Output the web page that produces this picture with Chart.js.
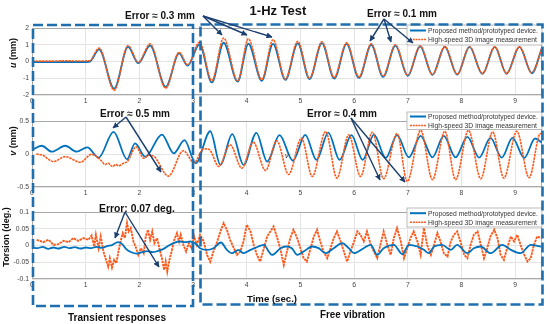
<!DOCTYPE html>
<html><head><meta charset="utf-8">
<script src="https://cdn.jsdelivr.net/npm/chart.js@4.4.0/dist/chart.umd.min.js"></script>
<style>
html,body{margin:0;padding:0;background:#fff;}
#wrap{position:relative;width:550px;height:324px;overflow:hidden;font-family:"Liberation Sans",Arial,sans-serif;}
canvas{position:absolute;left:0;}
svg{position:absolute;left:0;top:0;font-family:"Liberation Sans",Arial,sans-serif;}
</style></head><body>
<div id="wrap">
<canvas id="c1" width="550" height="89" style="top:20px;width:550px;height:89px"></canvas>
<canvas id="c2" width="550" height="88" style="top:113px;width:550px;height:88px"></canvas>
<canvas id="c3" width="550" height="89" style="top:204px;width:550px;height:89px"></canvas>
<svg width="550" height="324" viewBox="0 0 550 324">
<defs>
<marker id="ah" markerWidth="6" markerHeight="6" refX="5.5" refY="3" orient="auto" markerUnits="userSpaceOnUse"><path d="M0,0 L6,3 L0,6 z" fill="#1B3F6E"/></marker>
</defs>
<text x="278" y="14.6" font-size="13" font-weight="bold" text-anchor="middle" fill="#111">1-Hz Test</text>
<text transform="translate(15.5,53) rotate(-90)" font-size="9" font-weight="bold" text-anchor="middle" fill="#111"><tspan font-style="italic">u</tspan> (mm)</text>
<text transform="translate(15.5,141) rotate(-90)" font-size="9" font-weight="bold" text-anchor="middle" fill="#111"><tspan font-style="italic">v</tspan> (mm)</text>
<text transform="translate(9,237) rotate(-90)" font-size="9" font-weight="bold" text-anchor="middle" fill="#111">Torsion (deg.)</text>
<text x="285" y="158" font-size="7" font-style="italic" fill="#222">v</text>

<g font-size="6.7" fill="#333">
<rect x="407" y="25" width="135" height="20" fill="#fff" stroke="#aaa" stroke-width="0.8"/>
<line x1="410" y1="30.5" x2="426" y2="30.5" stroke="#0072BD" stroke-width="2"/>
<line x1="410" y1="39.5" x2="426" y2="39.5" stroke="#FA5A1C" stroke-width="1.6" stroke-dasharray="2 0.8"/>
<text x="428" y="32.8" textLength="110" lengthAdjust="spacingAndGlyphs">Proposed method/prototyped device.</text>
<text x="428" y="41.8" textLength="109" lengthAdjust="spacingAndGlyphs">High-speed 3D image measurement</text>

<rect x="407" y="112" width="135" height="17.5" fill="#fff" stroke="#aaa" stroke-width="0.8"/>
<line x1="410" y1="116.5" x2="426" y2="116.5" stroke="#0072BD" stroke-width="2"/>
<line x1="410" y1="125.5" x2="426" y2="125.5" stroke="#FA5A1C" stroke-width="1.6" stroke-dasharray="2 0.8"/>
<text x="428" y="118.7" textLength="110" lengthAdjust="spacingAndGlyphs">Proposed method/prototyped device.</text>
<text x="428" y="127.7" textLength="109" lengthAdjust="spacingAndGlyphs">High-speed 3D image measurement</text>

<rect x="407" y="208" width="135" height="19" fill="#fff" stroke="#aaa" stroke-width="0.8"/>
<line x1="410" y1="213.2" x2="426" y2="213.2" stroke="#0072BD" stroke-width="2"/>
<line x1="410" y1="222.2" x2="426" y2="222.2" stroke="#FA5A1C" stroke-width="1.6" stroke-dasharray="2 0.8"/>
<text x="428" y="215.5" textLength="110" lengthAdjust="spacingAndGlyphs">Proposed method/prototyped device.</text>
<text x="428" y="224.5" textLength="109" lengthAdjust="spacingAndGlyphs">High-speed 3D image measurement</text>
</g>

<rect x="33" y="25" width="160" height="281" fill="none" stroke="#1F6FAE" stroke-width="2.6" stroke-dasharray="10 4"/>
<rect x="200.5" y="24.5" width="342" height="280" fill="none" stroke="#1F6FAE" stroke-width="2.6" stroke-dasharray="10 4"/>

<g font-size="10" font-weight="bold" fill="#111">
<text x="125" y="18.6" textLength="70" lengthAdjust="spacingAndGlyphs">Error ≈ 0.3 mm</text>
<text x="367" y="16.6" textLength="70" lengthAdjust="spacingAndGlyphs">Error ≈ 0.1 mm</text>
<text x="100" y="116.6" textLength="70" lengthAdjust="spacingAndGlyphs">Error ≈ 0.5 mm</text>
<text x="307" y="116.6" textLength="70" lengthAdjust="spacingAndGlyphs">Error ≈ 0.4 mm</text>
<text x="99" y="211.6" textLength="76" lengthAdjust="spacingAndGlyphs">Error: 0.07 deg.</text>
<text x="247" y="301.5" font-size="9.6" textLength="50" lengthAdjust="spacingAndGlyphs">Time (sec.)</text>
<text x="68" y="320.5" textLength="98" lengthAdjust="spacingAndGlyphs">Transient responses</text>
<text x="320" y="317.5" textLength="65" lengthAdjust="spacingAndGlyphs">Free vibration</text>
</g>

<g stroke="#1B3F6E" stroke-width="1.4" fill="none" marker-end="url(#ah)">
<line x1="203" y1="16" x2="222" y2="35"/>
<line x1="203" y1="16" x2="247" y2="35"/>
<line x1="203" y1="16" x2="272" y2="37"/>
<line x1="384" y1="19" x2="370" y2="41"/>
<line x1="384" y1="19" x2="391" y2="42"/>
<line x1="384" y1="19" x2="413" y2="43"/>
<line x1="126" y1="117" x2="113" y2="128"/>
<line x1="126" y1="117" x2="161" y2="172"/>
<line x1="351" y1="118" x2="380" y2="180"/>
<line x1="351" y1="118" x2="405" y2="182"/>
<line x1="125" y1="212" x2="115" y2="238"/>
<line x1="125" y1="212" x2="159" y2="267"/>
</g>
</svg>
</div>
<script>
// ---- data (time in s, value) ----
const xTickVals = [0,1,2,3,4,5,6,7,8,9];
const uTicks = [-2,-1,0,1,2];
const vTicks = [-0.5,0,0.5];
const torTicks = [-0.1,-0.05,0,0.05,0.1];

const uBlue = [[0,-0.03],[0.3,-0.04],[0.6,-0.03],[0.9,-0.03],[1.07,-0.02],[1.25,0.72],[1.53,-1.62],[1.79,0.87],[1.98,-0.1],[2.2,0.95],[2.49,-1.52],[2.74,0.48],[2.9,-0.25],[3.12,1.02],[3.35,-1.25],[3.57,1.12],[3.83,-1.2],[4.03,1.06],[4.28,-1.15],[4.49,1.05],[4.72,-1.1],[4.95,1.08],[5.17,-1.05],[5.4,1.1],[5.63,-1.02],[5.86,1.05],[6.09,-0.98],[6.32,1.0],[6.54,-0.92],[6.77,0.95],[7.0,-0.86],[7.23,0.91],[7.46,-0.8],[7.69,0.88],[7.92,-0.78],[8.15,0.87],[8.39,-0.74],[8.62,0.87],[8.84,-0.73],[9.08,0.87],[9.31,-0.7],[9.5,0.8]];
const uOrange = [[0,0.03],[0.3,0.02],[0.6,0.04],[0.9,0.03],[1.07,0.04],[1.25,0.8],[1.53,-1.72],[1.79,0.95],[1.98,-0.05],[2.2,1.05],[2.49,-1.6],[2.74,0.55],[2.9,-0.2],[3.12,1.15],[3.35,-1.15],[3.57,1.4],[3.83,-1.15],[4.03,1.35],[4.28,-1.08],[4.49,1.3],[4.72,-1.05],[4.95,1.21],[5.17,-1.0],[5.4,1.18],[5.63,-0.95],[5.86,1.12],[6.09,-0.92],[6.32,1.05],[6.54,-0.88],[6.77,1.0],[7.0,-0.82],[7.23,0.93],[7.46,-0.78],[7.69,0.9],[7.92,-0.76],[8.15,0.88],[8.39,-0.72],[8.62,0.88],[8.84,-0.71],[9.08,0.88],[9.31,-0.68],[9.5,0.82]];

const vBlue = [[0,0.06],[0.18,0.125],[0.37,0.035],[0.62,0.125],[0.83,0.035],[1.03,0.1],[1.24,-0.055],[1.52,0.335],[1.77,-0.08],[1.92,0.16],[2.11,-0.04],[2.42,0.295],[2.64,0.01],[2.84,0.21],[3.05,-0.14],[3.32,0.345],[3.51,-0.165],[3.73,0.3],[3.94,-0.165],[4.18,0.32],[4.38,-0.115],[4.61,0.285],[4.86,-0.1],[5.09,0.29],[5.3,-0.09],[5.52,0.325],[5.73,-0.09],[5.95,0.285],[6.16,-0.09],[6.37,0.295],[6.59,-0.06],[6.8,0.285],[7.02,-0.05],[7.24,0.275],[7.46,-0.05],[7.67,0.275],[7.89,-0.05],[8.11,0.26],[8.33,-0.055],[8.54,0.245],[8.75,-0.055],[8.95,0.245],[9.17,-0.06],[9.37,0.235],[9.5,0.17]];
const vOrange = [[0.08,0.0],[0.2,-0.02],[0.4,-0.115],[0.62,-0.04],[0.9,-0.125],[1.11,-0.005],[1.22,-0.05],[1.3,-0.11],[1.36,-0.16],[1.42,-0.14],[1.5,-0.19],[1.56,-0.16],[1.62,-0.18],[1.7,-0.14],[1.78,-0.11],[1.94,0.11],[2.08,-0.065],[2.18,-0.02],[2.26,-0.03],[2.54,-0.335],[2.82,0.05],[3.02,-0.13],[3.2,0.08],[3.3,0.07],[3.48,-0.19],[3.69,0.14],[3.91,-0.215],[4.12,0.18],[4.35,-0.25],[4.56,0.2],[4.78,-0.31],[5.02,0.24],[5.22,-0.34],[5.47,0.34],[5.68,-0.365],[5.9,0.29],[6.12,-0.34],[6.34,0.33],[6.55,-0.375],[6.8,0.31],[6.99,-0.415],[7.24,0.36],[7.46,-0.39],[7.69,0.345],[7.89,-0.39],[8.13,0.36],[8.36,-0.375],[8.58,0.335],[8.79,-0.365],[9.03,0.345],[9.26,-0.36],[9.47,0.31],[9.5,0.29]];

const torBlue = [[0,-0.005],[0.1,-0.008],[0.2,-0.004],[0.3,-0.01],[0.4,-0.006],[0.5,-0.009],[0.6,-0.004],[0.7,-0.008],[0.8,-0.005],[0.9,-0.009],[1.0,-0.006],[1.1,-0.008],[1.2,-0.004],[1.3,-0.007],[1.4,-0.002],[1.5,0.002],[1.6,0.01],[1.68,0.004],[1.75,-0.01],[1.85,-0.02],[1.95,-0.024],[2.05,-0.02],[2.15,-0.017],[2.25,-0.02],[2.35,-0.016],[2.45,-0.01],[2.55,0.0],[2.65,0.008],[2.75,0.012],[2.85,0.01],[2.95,0.012],[3.05,0.005],[3.13,-0.008],[3.26,-0.013],[3.38,-0.008],[3.52,0.009],[3.63,-0.013],[3.72,-0.023],[3.85,-0.013],[3.94,-0.023],[4.07,-0.013],[4.22,-0.003],[4.32,0.002],[4.41,-0.018],[4.47,-0.028],[4.63,-0.008],[4.72,-0.003],[4.84,-0.008],[4.94,-0.028],[5.06,-0.018],[5.22,-0.003],[5.34,-0.008],[5.47,-0.023],[5.62,-0.008],[5.78,0.007],[5.9,-0.008],[6.0,-0.023],[6.18,-0.008],[6.31,0.002],[6.43,-0.028],[6.55,-0.008],[6.74,0.002],[6.9,-0.026],[7.02,0.002],[7.18,-0.003],[7.3,-0.013],[7.39,-0.023],[7.49,-0.003],[7.64,0.002],[7.8,-0.013],[7.92,0.002],[8.11,-0.023],[8.23,-0.008],[8.36,-0.003],[8.54,-0.023],[8.76,0.002],[8.92,-0.013],[9.1,-0.023],[9.29,0.002],[9.48,-0.003]];
const torOrange = [[0.087,0.017],[0.21,0.01],[0.31,0.017],[0.4,0.002],[0.49,0.004],[0.59,0.014],[0.68,0.01],[0.77,0.022],[0.86,0.014],[0.96,0.022],[1.05,0.017],[1.11,0.03],[1.16,-0.003],[1.19,0.032],[1.24,-0.008],[1.28,0.027],[1.33,-0.018],[1.38,-0.043],[1.42,-0.063],[1.45,-0.038],[1.49,-0.066],[1.53,-0.043],[1.57,-0.053],[1.61,-0.018],[1.65,0.012],[1.69,0.037],[1.73,0.022],[1.77,0.067],[1.8,0.042],[1.84,0.052],[1.89,0.012],[1.94,-0.008],[1.98,-0.028],[2.03,-0.008],[2.08,-0.023],[2.12,0.027],[2.16,0.047],[2.2,0.017],[2.24,0.042],[2.28,0.007],[2.33,0.022],[2.38,-0.013],[2.42,-0.038],[2.46,-0.073],[2.49,-0.048],[2.52,-0.078],[2.56,-0.043],[2.6,-0.018],[2.65,0.017],[2.7,0.037],[2.74,0.012],[2.77,0.032],[2.82,0.002],[2.87,-0.018],[2.92,0.007],[2.97,-0.008],[3.02,0.027],[3.07,0.002],[3.13,0.032],[3.2,0.012],[3.26,-0.028],[3.32,-0.048],[3.38,-0.018],[3.45,0.012],[3.51,0.042],[3.57,0.067],[3.63,0.047],[3.69,0.017],[3.76,-0.008],[3.82,-0.028],[3.88,-0.018],[3.94,0.012],[4.0,0.062],[4.07,0.042],[4.13,0.002],[4.19,-0.028],[4.25,-0.048],[4.32,-0.008],[4.38,0.027],[4.44,0.042],[4.5,0.057],[4.57,0.022],[4.63,-0.013],[4.69,-0.058],[4.75,-0.018],[4.81,0.022],[4.87,0.047],[4.94,0.022],[5.0,-0.008],[5.06,-0.038],[5.12,-0.048],[5.19,-0.008],[5.25,0.027],[5.31,0.047],[5.37,0.012],[5.43,-0.018],[5.5,-0.038],[5.56,-0.008],[5.62,0.022],[5.68,0.042],[5.75,0.012],[5.81,-0.018],[5.87,-0.048],[5.93,-0.018],[6.0,0.012],[6.06,0.042],[6.12,0.032],[6.18,0.012],[6.24,0.042],[6.31,0.002],[6.37,-0.018],[6.43,-0.038],[6.49,0.002],[6.55,0.042],[6.62,0.002],[6.68,-0.028],[6.74,0.022],[6.8,0.052],[6.87,0.012],[6.93,-0.038],[6.99,-0.008],[7.05,0.022],[7.11,0.042],[7.18,0.012],[7.24,-0.028],[7.3,0.052],[7.36,0.002],[7.43,-0.028],[7.49,0.002],[7.55,0.037],[7.61,0.012],[7.67,-0.023],[7.74,-0.033],[7.8,0.012],[7.86,0.032],[7.92,0.042],[7.98,0.012],[8.05,-0.028],[8.11,-0.038],[8.17,0.002],[8.23,0.032],[8.3,0.042],[8.36,0.002],[8.42,-0.038],[8.48,-0.008],[8.54,0.027],[8.61,0.047],[8.67,0.022],[8.73,-0.028],[8.79,-0.043],[8.85,-0.008],[8.92,0.027],[8.98,0.012],[9.04,0.032],[9.1,0.002],[9.17,-0.028],[9.23,-0.048],[9.29,-0.038],[9.35,0.002],[9.41,0.027],[9.48,0.022]];

// ---- chart building ----
const BLUE = '#0072BD', ORANGE = '#FA5A1C';
const FONT = '"Liberation Sans", Arial, sans-serif';
const pts = a => a.map(p => ({x:p[0], y:p[1]}));
const frame = {id:'frame', beforeDatasetsDraw(c){
  const a=c.chartArea, x=c.ctx; x.save(); x.strokeStyle='#a8a8a8'; x.lineWidth=1;
  x.strokeRect(Math.round(a.left)+0.5, Math.round(a.top)+0.5, Math.round(a.right-a.left)-1, Math.round(a.bottom-a.top)-1);
  x.restore();}};

function mk(id, blue, orange, ymin, ymax, yt, orangeTop, orangeSmooth, oWidth){
  return new Chart(document.getElementById(id), {
    type:'line',
    data:{datasets:[
      {label:'Proposed method/prototyped device.', data:pts(blue), borderColor:BLUE, borderWidth:1.8,
       pointRadius:0, tension:0.4, cubicInterpolationMode:'monotone', order: orangeTop?1:0},
      {label:'High-speed 3D image measurement', data:pts(orange), borderColor:ORANGE, borderWidth:oWidth,
       borderDash:[2.5,0.8], pointRadius:0, tension: orangeSmooth?0.4:0,
       cubicInterpolationMode: orangeSmooth?'monotone':'default', order: orangeTop?0:1}
    ]},
    options:{responsive:false, animation:false, devicePixelRatio:1,
      layout:{padding:{top:8,right:8,left:0,bottom:0}},
      plugins:{legend:{display:false}, tooltip:{enabled:false}},
      scales:{
        x:{type:'linear', min:0, max:9.5,
           afterBuildTicks:s=>{s.ticks=xTickVals.map(v=>({value:v}));},
           afterFit:s=>{s.height=14;},
           ticks:{font:{size:6.8,family:FONT}, color:'#444', padding:2, maxRotation:0, autoSkip:false, callback:v=>String(v)},
           grid:{color:'#e4e4e4', drawTicks:false}, border:{display:false}},
        y:{type:'linear', min:ymin, max:ymax,
           afterBuildTicks:s=>{s.ticks=yt.map(v=>({value:v}));},
           afterFit:s=>{s.width=32;},
           ticks:{font:{size:6.8,family:FONT}, color:'#444', padding:3, callback:v=>String(v)},
           grid:{color:'#e4e4e4', drawTicks:false}, border:{display:false}}
      }
    },
    plugins:[frame]
  });
}
mk('c1', uBlue, uOrange, -2, 2, uTicks, true, true, 1.6);
mk('c2', vBlue, vOrange, -0.5, 0.5, vTicks, true, true, 1.6);
mk('c3', torBlue, torOrange, -0.1, 0.1, torTicks, false, false, 1.9);
</script>
</body></html>
